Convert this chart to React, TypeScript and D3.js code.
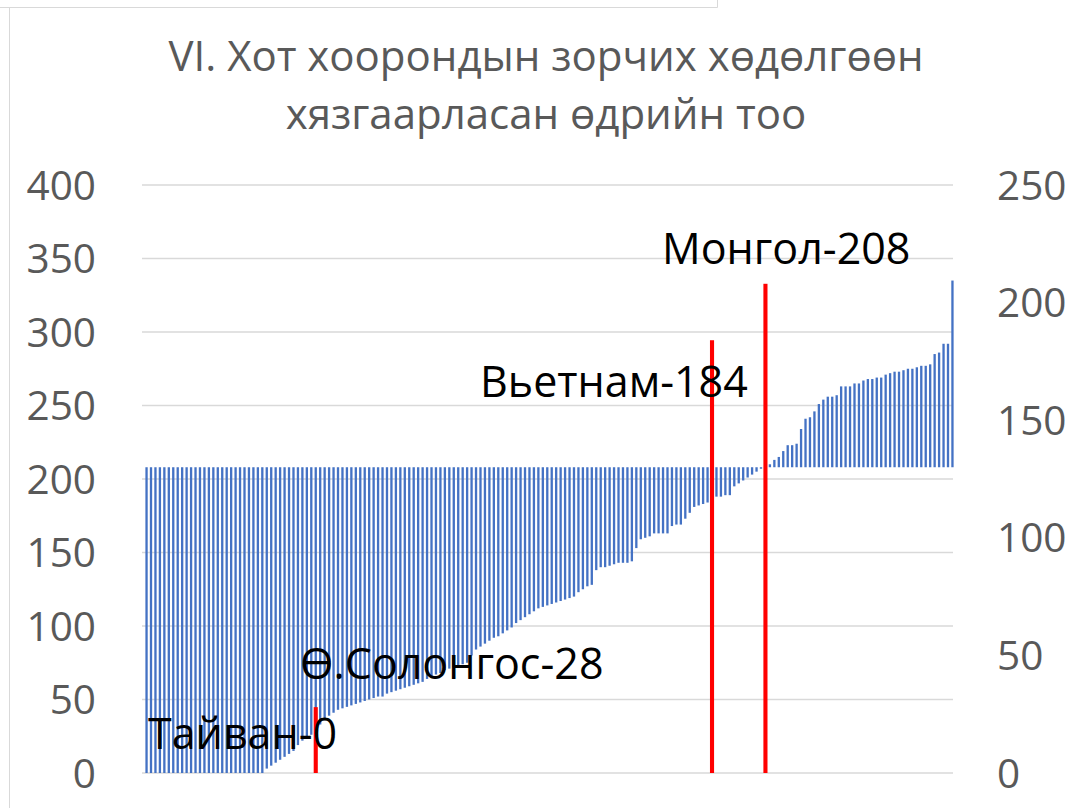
import React from "react";
import * as d3 from "d3";

// restricted days per country, sorted ascending (left axis)
const days = [
  0, 0, 0, 0, 0, 0, 0, 0, 0, 0, 0, 0, 0, 0, 0, 0, 0, 0, 0, 0, 0, 0, 0, 0, 0, 0, 0,
  3, 5, 7, 9, 11, 13, 15, 19, 22, 25, 26, 28,
  33, 36, 39, 41, 43, 44, 45, 46, 47, 48, 49, 50, 51, 52, 52, 54, 55, 56, 57, 58,
  59, 60, 61, 62, 64, 65, 67, 68, 70, 71, 72, 73, 74, 75,
  80, 84, 86, 88, 90, 92, 93, 95, 97, 99, 102, 104, 106, 108, 110, 112, 113, 114,
  115, 116, 117, 118, 119, 120, 123, 125, 127, 128,
  138, 140, 140, 141, 142, 143, 143, 143, 144, 153, 159, 160, 161, 163, 163, 163,
  163, 168, 169, 169, 173, 177, 181, 182, 183, 184, 184, 188, 188, 189, 189, 195,
  197, 199, 201, 203, 205, 207, 208,
  210, 213, 215, 219, 223, 223, 224, 234, 241, 242, 246, 251, 254, 256, 256, 257,
  263, 263, 263, 265, 265, 267, 268, 268, 269, 269, 271, 272, 273, 273, 274, 275,
  275, 276, 277, 277, 278, 285, 286, 292, 292, 335,
];

// highlighted countries (right axis)
const highlightNames = ["Тайван", "Ө.Солонгос", "Вьетнам", "Монгол"];
const highlightDays = [0, 28, 184, 208];
const highlightIndex = [0, 38, 127, 139];

const leftTicks = [0, 50, 100, 150, 200, 250, 300, 350, 400];
const rightTicks = [0, 50, 100, 150, 200, 250];
const titleLines = ["VI. Хот хоорондын зорчих хөдөлгөөн", "хязгаарласан өдрийн тоо"];
const axisCross = 208;

const W = 1089;
const H = 808;
const FONT = "'Open Sans', sans-serif";

// hand-placed label anchors (start x, baseline y), as in the source
const labelPos = [
  [148, 749],
  [300, 679],
  [480, 397],
  [662, 264],
];

export default function App() {
  const idx = days.map((_, i) => i);
  const x = d3.scaleBand<number>().domain(idx).range([144.5, 954.5]).paddingInner(0.48).paddingOuter(0.2);
  const bw = x.bandwidth();
  const redW = x.step() * 0.92;
  const yL = d3.scaleLinear().domain([0, 400]).range([773, 185]);
  const yR = d3.scaleLinear().domain([0, 250]).range([773, 185]);
  const base = yL(axisCross);

  return (
    <svg
      width={W}
      height={H}
      style={{ position: "absolute", left: 0, top: 0, background: "#fff" }}
      fontFamily={FONT}
    >
      <rect width={W} height={H} fill="#fff" />
      {/* frame fragments */}
      <path d="M0,7.5H717.5V0" fill="none" stroke="#d9d9d9" />
      <path d="M9.5,8V808" fill="none" stroke="#d9d9d9" />

      {titleLines.map((t, i) => (
        <text key={t} x={546} y={71 + i * 58} textAnchor="middle" fontSize={42} fill="#595959">
          {t}
        </text>
      ))}

      {leftTicks.map((t) => (
        <g key={"g" + t}>
          <line x1={142} x2={953} y1={yL(t)} y2={yL(t)} stroke="#d9d9d9" strokeWidth={1.3} />
          <text x={96} y={yL(t)} dy="0.36em" textAnchor="end" fontSize={40.5} fill="#595959">
            {t}
          </text>
        </g>
      ))}
      {rightTicks.map((t) => (
        <text key={"r" + t} x={997} y={yR(t)} dy="0.36em" fontSize={40.5} fill="#595959">
          {t}
        </text>
      ))}

      {days.map((v, i) => (
        <rect
          key={i}
          x={x(i)}
          width={bw}
          y={Math.min(base, yL(v))}
          height={Math.abs(base - yL(v))}
          fill="#4472c4"
        />
      ))}

      {highlightIndex.map((ix, k) => (
        <rect
          key={"h" + k}
          x={(x(ix) as number) + bw / 2 - redW / 2}
          width={redW}
          y={yR(highlightDays[k])}
          height={yR(0) - yR(highlightDays[k])}
          fill="#ff0000"
        />
      ))}

      {highlightNames.map((n, k) => (
        <text key={n} x={labelPos[k][0]} y={labelPos[k][1]} fontSize={43} fill="#000">
          {n}-{highlightDays[k]}
        </text>
      ))}
    </svg>
  );
}
